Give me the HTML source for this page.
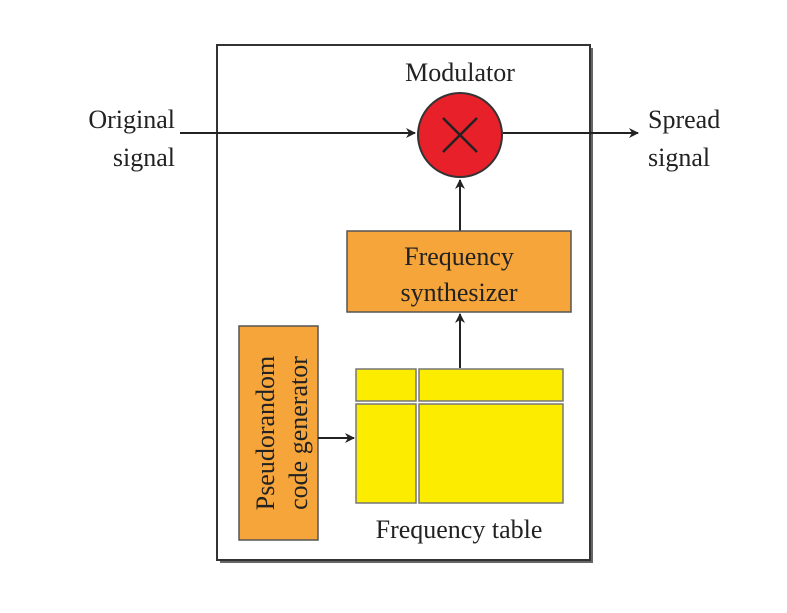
<!DOCTYPE html>
<html><head><style>body{margin:0;background:#fff}</style></head><body>
<svg width="787" height="608" xmlns="http://www.w3.org/2000/svg" font-family="Liberation Serif, serif" font-size="26" fill="#222">
<defs><marker id="a" markerWidth="10" markerHeight="10" refX="9" refY="5" orient="auto" markerUnits="userSpaceOnUse"><path d="M0,0 L10,5 L0,10 L3,5 Z" fill="#222"/></marker></defs>
<rect x="220" y="48" width="373" height="515" fill="#666"/>
<rect x="217" y="45" width="373" height="515" fill="#fff" stroke="#333" stroke-width="2"/>
<text x="460" y="81" text-anchor="middle">Modulator</text>
<line x1="180" y1="133" x2="415" y2="133" stroke="#222" stroke-width="2" marker-end="url(#a)"/>
<line x1="503" y1="133" x2="638" y2="133" stroke="#222" stroke-width="2" marker-end="url(#a)"/>
<circle cx="460" cy="135" r="42" fill="#e8202a" stroke="#333" stroke-width="2"/>
<line x1="443" y1="118" x2="477" y2="152" stroke="#222" stroke-width="2.5"/>
<line x1="477" y1="118" x2="443" y2="152" stroke="#222" stroke-width="2.5"/>
<text x="175" y="128" text-anchor="end">Original</text>
<text x="175" y="166" text-anchor="end">signal</text>
<text x="648" y="128">Spread</text>
<text x="648" y="166">signal</text>
<line x1="460" y1="231" x2="460" y2="180" stroke="#222" stroke-width="2" marker-end="url(#a)"/>
<rect x="347" y="231" width="224" height="81" fill="#f6a53a" stroke="#555" stroke-width="1.5"/>
<text x="459" y="265" text-anchor="middle">Frequency</text>
<text x="459" y="301" text-anchor="middle">synthesizer</text>
<line x1="460" y1="368" x2="460" y2="314" stroke="#222" stroke-width="2" marker-end="url(#a)"/>
<rect x="239" y="326" width="79" height="214" fill="#f6a53a" stroke="#555" stroke-width="1.5"/>
<text transform="translate(274,433) rotate(-90)" text-anchor="middle">Pseudorandom</text>
<text transform="translate(307,433) rotate(-90)" text-anchor="middle">code generator</text>
<line x1="318" y1="438" x2="354" y2="438" stroke="#222" stroke-width="2" marker-end="url(#a)"/>
<g fill="#fbec00" stroke="#777" stroke-width="1.5">
<rect x="356" y="369" width="60" height="32"/>
<rect x="419" y="369" width="144" height="32"/>
<rect x="356" y="404" width="60" height="99"/>
<rect x="419" y="404" width="144" height="99"/>
</g>
<text x="459" y="538" text-anchor="middle">Frequency table</text>
</svg>
</body></html>
